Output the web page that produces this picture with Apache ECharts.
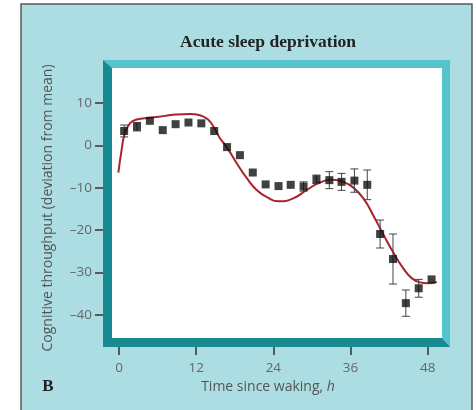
<!DOCTYPE html>
<html>
<head>
<meta charset="utf-8">
<script src="https://cdn.jsdelivr.net/npm/echarts@6/dist/echarts.min.js"></script>
<style>
html,body{margin:0;padding:0;background:#fff;}
#chart{width:476px;height:410px;}
</style>
</head>
<body>
<div id="chart"></div>
<script>
// ---- data ----
const hours = [0.8,2.8,4.8,6.8,8.8,10.8,12.8,14.8,16.8,18.8,20.8,22.8,24.8,26.7,28.7,30.7,32.7,34.6,36.6,38.6,40.6,42.6,44.6,46.6,48.6];
const means = [3.4,4.4,5.8,3.6,5.0,5.4,5.2,3.4,-0.4,-2.3,-6.4,-9.2,-9.6,-9.3,-9.7,-8.0,-8.2,-8.6,-8.3,-9.3,-20.9,-26.8,-37.2,-33.7,-31.6];
const errors = [1.4,1.0,0,0,0,0,0,0,0,0,0,0,0,0,1.1,1.0,2.0,2.0,2.75,3.5,3.3,5.9,3.1,2.1,0];
const fitHours = [-0.1,0.4,0.9,1.7,2.75,4.8,6.9,9,11,12.6,13.9,14.7,15.7,16.75,18.3,19.9,21.4,23,24.8,27.1,29.2,31.3,33.3,34.9,36.4,38,39.5,41.1,42.7,44.2,45.5,46.8,48,49.4];
const fitValues = [-6.4,-1.1,2.8,5.2,6.1,6.5,6.9,7.3,7.4,7.1,6.0,4.4,1.7,-0.4,-4.2,-7.8,-10.5,-12.2,-13.2,-12.5,-10.5,-8.7,-8.1,-8.6,-9.9,-12.5,-16.4,-21.0,-25.4,-29.0,-31.3,-32.3,-32.5,-32.2];
const xTicks = [0,12,24,36,48];
const yTicks = [-40,-30,-20,-10,0,10];
const titleText = 'Acute sleep deprivation';
const xName = 'Time since waking, ';
const xNameItalic = 'h';
const yName = 'Cognitive throughput (deviation from mean)';
const panelLetter = 'B';

// ---- layout ----
const GL = 112, GT = 68, GR = 442, GB = 338;   // white plot area
const FW = 9;                                   // teal frame width
const OL = GL - FW, OT = GT - 8, OR = GR + 8, OB = GB + FW;

const chart = echarts.init(document.getElementById('chart'), null, {renderer:'canvas'});

const points = hours.map((h,i)=>[h, means[i]]);
const bars = hours.map((h,i)=>[h, means[i]-errors[i], means[i]+errors[i]]).filter((d,i)=>errors[i]>0);
const fit = fitHours.map((h,i)=>[h, fitValues[i]]);

const labelFont = '"Open Sans", "Liberation Sans", sans-serif';

chart.setOption({
  backgroundColor: '#ffffff',
  animation: false,
  title: {
    text: titleText,
    left: 263, top: 28, textAlign: 'center',
    textStyle: {fontFamily: '"Liberation Serif", serif', fontWeight: 'bold', fontSize: 17.5, color: '#222'}
  },
  graphic: [
    {type:'rect', z:-10, shape:{x:21, y:4, width:451, height:420}, style:{fill:'#abdde2', stroke:'#5a5a5a', lineWidth:1.5}},
    {type:'rect', z:-9, shape:{x:GL, y:GT, width:GR-GL, height:GB-GT}, style:{fill:'#ffffff'}},
    {type:'polygon', z:-8, shape:{points:[[OL,OT],[OR,OT],[OR,OB],[GR,GB],[GR,GT],[GL,GT]]}, style:{fill:'#55c4cc'}},
    {type:'polygon', z:-8, shape:{points:[[OL,OT],[GL,GT],[GL,GB],[GR,GB],[OR,OB],[OL,OB]]}, style:{fill:'#178991'}},
    {type:'text', z:5, x:48, y:387, style:{text:panelLetter, font:'bold 17px "Liberation Serif", serif', fill:'#222', align:'center', verticalAlign:'middle'}}
  ],
  grid: {left: GL, top: GT, right: 476-GR, bottom: 410-GB, containLabel:false},
  xAxis: {
    type:'value', min:-1.09, max:50.22, offset: FW, z:10,
    splitLine:{show:false}, axisLine:{show:false, onZero:false},
    axisTick:{show:true, length:8, inside:false, customValues:xTicks, lineStyle:{color:'#333', width:1.5}},
    axisLabel:{customValues:xTicks, margin:14, color:'#666', fontSize:13.5, fontFamily:labelFont},
    name: '{n|' + xName + '}{i|' + xNameItalic + '}', nameLocation:'middle', nameGap:32,
    nameTextStyle:{padding:[0,18,0,0], rich:{
      n:{fontSize:14, color:'#555', fontFamily:labelFont},
      i:{fontSize:14, color:'#555', fontFamily:labelFont, fontStyle:'italic'}
    }}
  },
  yAxis: {
    type:'value', min:-45.42, max:18.25, offset: FW, z:10,
    splitLine:{show:false}, axisLine:{show:false, onZero:false},
    axisTick:{show:true, length:8, customValues:yTicks, lineStyle:{color:'#333', width:1.5}},
    axisLabel:{customValues:yTicks, margin:11, color:'#666', fontSize:13.5, fontFamily:labelFont,
      formatter:v=> String(v).replace('-', '\u2013')},
    name: yName, nameLocation:'middle', nameGap:48, nameRotate:90,
    nameTextStyle:{fontSize:14, color:'#555', fontFamily:labelFont, padding:[0,10,0,0]}
  },
  series: [
    {
      type:'line', data:fit, smooth:0.5, showSymbol:false, z:11,
      lineStyle:{color:'#a8232d', width:2}
    },
    {
      type:'custom', data:bars, z:12,
      encode:{x:0, y:[1,2]},
      renderItem:(params, api)=>{
        const x = api.value(0);
        const top = api.coord([x, api.value(2)]);
        const bot = api.coord([x, api.value(1)]);
        const cw = 4;
        const st = {stroke:'#444', lineWidth:1};
        return {type:'group', children:[
          {type:'line', shape:{x1:top[0], y1:top[1], x2:bot[0], y2:bot[1]}, style:st},
          {type:'line', shape:{x1:top[0]-cw, y1:top[1], x2:top[0]+cw, y2:top[1]}, style:st},
          {type:'line', shape:{x1:bot[0]-cw, y1:bot[1], x2:bot[0]+cw, y2:bot[1]}, style:st}
        ]};
      }
    },
    {
      type:'scatter', data:points, symbol:'rect', symbolSize:8, z:13,
      itemStyle:{color:'#111'}
    }
  ]
});
</script>
</body>
</html>
